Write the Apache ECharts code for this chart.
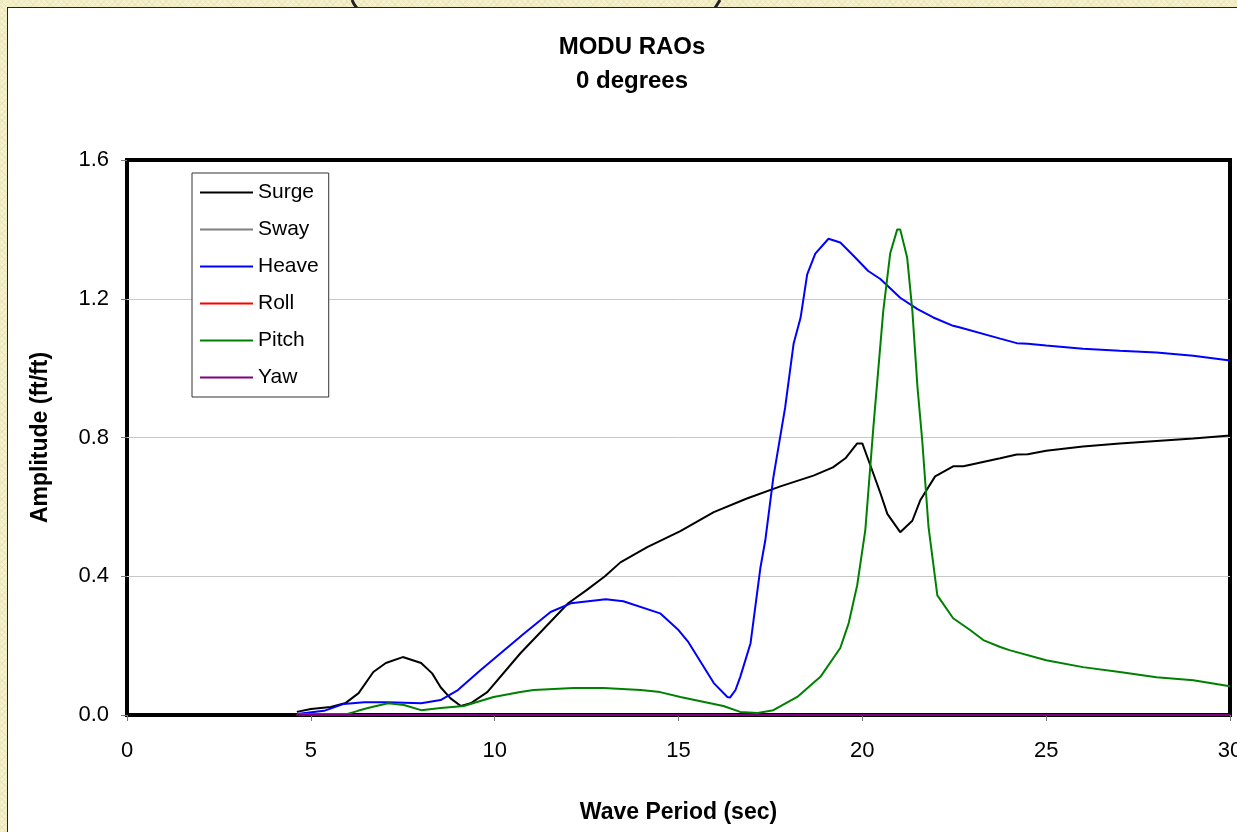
<!DOCTYPE html>
<html>
<head>
<meta charset="utf-8">
<script src="https://cdn.jsdelivr.net/npm/echarts@6/dist/echarts.min.js"></script>
<style>
  html, body {
    margin: 0;
    padding: 0;
    width: 1237px;
    height: 832px;
    overflow: hidden;
    background-color: #f6f1cd;
    background-image:
      repeating-linear-gradient(45deg, rgba(200,190,120,0.18) 0 1px, transparent 1px 4px),
      repeating-linear-gradient(-45deg, rgba(200,190,120,0.18) 0 1px, transparent 1px 4px);
  }
  #panel {
    position: absolute;
    left: 7px;
    top: 7px;
    width: 1248px;
    height: 832px;
    border-left: 1px solid #222;
    border-top: 1px solid #222;
    background: #fff;
  }
  #chart {
    width: 1248px;
    height: 832px;
  }
  #marks {
    position: absolute;
    left: 0;
    top: 0;
  }
</style>
</head>
<body>
<svg id="marks" width="1237" height="8">
  <path d="M352 0 Q354 5 357 8" stroke="#222" stroke-width="3" fill="none"/>
  <path d="M720 0 L715 8" stroke="#222" stroke-width="3" fill="none"/>
</svg>
<div id="panel"><div id="chart"></div></div>
<script>
// wave period (sec) and amplitude (ft/ft)
var surgeT = [4.62, 5.0, 5.54, 5.95, 6.3, 6.7, 7.04, 7.5, 8.0, 8.3, 8.53, 8.8, 9.08, 9.35, 9.8, 10.7, 12.0, 12.5, 13.0, 13.42, 14.15, 15.05, 15.96, 16.86, 17.77, 18.67, 19.2, 19.54, 19.86, 20.0, 20.2, 20.49, 20.68, 21.03, 21.36, 21.58, 21.98, 22.47, 22.75, 23.75, 24.2, 24.5, 25, 26, 27, 28, 29, 30];
var surgeA = [0.009, 0.017, 0.023, 0.035, 0.063, 0.124, 0.15, 0.167, 0.15, 0.12, 0.08, 0.048, 0.026, 0.034, 0.066, 0.178, 0.322, 0.36, 0.4, 0.44, 0.484, 0.53, 0.585, 0.624, 0.659, 0.69, 0.714, 0.74, 0.783, 0.783, 0.725, 0.64, 0.58, 0.527, 0.56, 0.62, 0.688, 0.717, 0.717, 0.74, 0.751, 0.752, 0.762, 0.774, 0.783, 0.79, 0.797, 0.806];

var heaveT = [4.62, 5.36, 5.9, 6.45, 7.1, 8.0, 8.53, 9.0, 9.62, 10.8, 11.52, 12.07, 13.02, 13.5, 14.5, 15.0, 15.27, 15.96, 16.33, 16.4, 16.55, 16.68, 16.96, 17.23, 17.36, 17.58, 17.9, 18.13, 18.32, 18.5, 18.72, 19.08, 19.4, 19.76, 20.16, 20.49, 21.03, 21.5, 21.93, 22.47, 22.66, 23.75, 24.2, 24.5, 25, 26, 27, 28, 29, 30];
var heaveA = [0.003, 0.012, 0.032, 0.037, 0.037, 0.034, 0.043, 0.072, 0.13, 0.235, 0.297, 0.322, 0.334, 0.328, 0.293, 0.245, 0.21, 0.092, 0.052, 0.05, 0.072, 0.11, 0.207, 0.426, 0.503, 0.685, 0.886, 1.07, 1.145, 1.27, 1.33, 1.373, 1.362, 1.324, 1.28, 1.257, 1.203, 1.17, 1.146, 1.122, 1.117, 1.085, 1.072, 1.07, 1.065, 1.056, 1.05, 1.045, 1.036, 1.022];

var pitchT = [4.62, 6.0, 6.28, 6.55, 7.1, 7.53, 8.0, 8.53, 9.16, 9.97, 10.7, 11.06, 12.15, 12.96, 13.97, 14.5, 15.05, 15.96, 16.22, 16.68, 17.15, 17.58, 18.23, 18.86, 19.4, 19.63, 19.86, 20.08, 20.3, 20.57, 20.76, 20.95, 21.03, 21.22, 21.36, 21.5, 21.63, 21.8, 22.04, 22.47, 22.93, 23.29, 23.75, 24, 25, 26, 27, 28, 29, 30];
var pitchA = [0.003, 0.003, 0.012, 0.02, 0.034, 0.029, 0.014, 0.02, 0.026, 0.052, 0.066, 0.072, 0.078, 0.078, 0.072, 0.066, 0.052, 0.032, 0.026, 0.009, 0.006, 0.014, 0.052, 0.11, 0.193, 0.265, 0.374, 0.532, 0.829, 1.166, 1.332, 1.4, 1.4, 1.318, 1.166, 0.945, 0.79, 0.542, 0.345, 0.279, 0.245, 0.216, 0.196, 0.187, 0.158, 0.138, 0.124, 0.109, 0.1, 0.083];

// sway, roll and yaw stay at zero over the whole range
var zeroT = [4.62, 30];
var zeroA = [0, 0];

var xTicks = { min: 0, max: 30, step: 5 };
var yTicks = { min: 0, max: 1.6, step: 0.4 };

function pairs(t, a) {
  var out = [];
  for (var i = 0; i < t.length; i++) {
    out.push([t[i], a[i]]);
  }
  return out;
}

var font = "'Liberation Sans', Arial, sans-serif";

var myChart = echarts.init(document.getElementById("chart"));

function line(name, color, t, a) {
  return {
    name: name,
    type: "line",
    data: pairs(t, a),
    showSymbol: false,
    symbol: "none",
    lineStyle: { color: color, width: 2 },
    itemStyle: { color: color },
    emphasis: { disabled: true }
  };
}

var option = {
  animation: false,
  backgroundColor: "#fff",
  title: {
    text: "MODU RAOs\n0 degrees",
    left: "center",
    top: 22,
    padding: 0,
    textStyle: {
      fontFamily: font,
      fontSize: 24,
      fontWeight: "bold",
      color: "#000",
      lineHeight: 34
    }
  },
  legend: {
    orient: "vertical",
    left: 184,
    top: 165,
    padding: [9, 10, 9, 8],
    itemGap: 16,
    itemWidth: 53,
    itemHeight: 2,
    icon: "rect",
    backgroundColor: "#fff",
    borderColor: "#333",
    borderWidth: 1,
    borderRadius: 0,
    textStyle: {
      fontFamily: font,
      fontSize: 21,
      color: "#000",
      lineHeight: 21
    },
    data: ["Surge", "Sway", "Heave", "Roll", "Pitch", "Yaw"]
  },
  grid: {
    left: 119,
    top: 152,
    right: 26,
    bottom: 125,
    show: true,
    borderColor: "#000",
    borderWidth: 4,
    backgroundColor: "transparent"
  },
  xAxis: {
    type: "value",
    min: xTicks.min,
    max: xTicks.max,
    interval: xTicks.step,
    name: "Wave Period (sec)",
    nameLocation: "middle",
    nameGap: 86,
    nameTextStyle: { fontFamily: font, fontSize: 23, fontWeight: "bold", color: "#000" },
    axisLine: { show: false },
    axisTick: { show: true, length: 6, lineStyle: { color: "#777", width: 1 } },
    axisLabel: { fontFamily: font, fontSize: 22, color: "#000", margin: 25 },
    splitLine: { show: false }
  },
  yAxis: {
    type: "value",
    min: yTicks.min,
    max: yTicks.max,
    interval: yTicks.step,
    name: "Amplitude (ft/ft)",
    nameLocation: "middle",
    nameGap: 75,
    nameTextStyle: { fontFamily: font, fontSize: 23, fontWeight: "bold", color: "#000" },
    axisLine: { show: false },
    axisTick: { show: true, length: 6, lineStyle: { color: "#777", width: 1 } },
    axisLabel: {
      fontFamily: font,
      fontSize: 22,
      color: "#000",
      margin: 18,
      formatter: function (v) { return v.toFixed(1); }
    },
    splitLine: {
      show: true,
      showMinLine: false,
      showMaxLine: false,
      lineStyle: { color: "#c8c8c8", width: 1 }
    }
  },
  series: [
    line("Surge", "#000000", surgeT, surgeA),
    line("Sway", "#808080", zeroT, zeroA),
    line("Heave", "#0000ff", heaveT, heaveA),
    line("Roll", "#ff0000", zeroT, zeroA),
    line("Pitch", "#008000", pitchT, pitchA),
    line("Yaw", "#800080", zeroT, zeroA)
  ]
};

myChart.setOption(option);
window.addEventListener("resize", function () {
  myChart.resize();
});
</script>
</body>
</html>
